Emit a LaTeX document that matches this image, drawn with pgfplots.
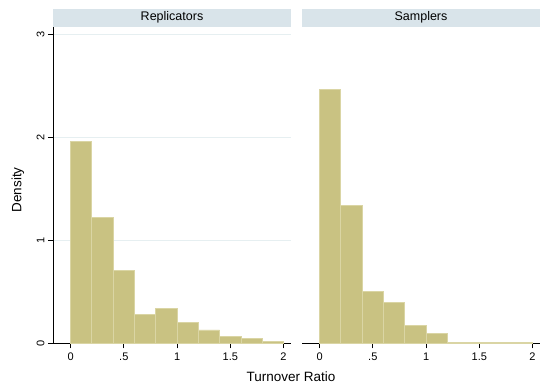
\documentclass[border=0pt]{standalone}
\usepackage{pgfplots}
\pgfplotsset{compat=1.18}
\usepackage{fontspec}
\setmainfont{Liberation Sans}
\definecolor{barfill}{HTML}{C9C282}
\definecolor{baredge}{HTML}{DAD5A4}
\definecolor{strip}{HTML}{D9E4EA}
\definecolor{gridc}{HTML}{E6EFF1}
\pgfplotsset{
  panel/.style={
    scale only axis, width=238bp, height=316bp,
    xmin=-0.165, xmax=2.07, ymin=0, ymax=3.07,
    axis x line*=bottom,
    xtick={0,0.5,1,1.5,2}, xticklabels={0,.5,1,1.5,2},
    ytick={0,1,2,3},
    ymajorgrids, grid style={gridc, line width=0.8bp},
    tick align=outside, major tick length=5bp,
    tick style={black, line width=0.7bp},
    axis line style={black, line width=0.8bp},
    /pgf/number format/assume math mode=true,
    ticklabel style={font=\fontsize{11bp}{13bp}\selectfont},
    xticklabel style={yshift=-1bp},
    clip=false,
  },
  hbars/.style={ybar interval, fill=barfill, draw=baredge, line width=0.8bp},
}
\begin{document}
\begin{tikzpicture}
\useasboundingbox (0,0) rectangle (540bp,385bp);
% strips
\fill[strip] (53bp,358.3bp) rectangle (291bp,376bp);
\fill[strip] (302bp,358.3bp) rectangle (540bp,376bp);
\node[font=\fontsize{12.5bp}{14bp}\selectfont] at (172bp,367.3bp) {Replicators};
\node[font=\fontsize{12.5bp}{14bp}\selectfont] at (421bp,367.3bp) {Samplers};
\begin{axis}[panel, at={(53bp,41.7bp)}, anchor=south west,
  axis y line*=left,
  yticklabel style={rotate=90, anchor=south, xshift=0bp},
  yticklabels={0,1,2,3}]
\addplot[hbars] coordinates {(0,1.96) (0.2,1.22) (0.4,0.71) (0.6,0.28) (0.8,0.34) (1.0,0.20) (1.2,0.13) (1.4,0.07) (1.6,0.05) (1.8,0.02) (2.0,0.02)};
\end{axis}
\begin{axis}[panel, at={(302bp,41.7bp)}, anchor=south west,
  axis y line=none]
\addplot[hbars] coordinates {(0,2.47) (0.2,1.34) (0.4,0.50) (0.6,0.40) (0.8,0.17) (1.0,0.10) (1.2,0.005) (1.4,0.01) (1.6,0.005) (1.8,0.01) (2.0,0.01)};
\end{axis}
\node[rotate=90, font=\fontsize{13.5bp}{15bp}\selectfont] at (18bp,195bp) {Density};
\node[font=\fontsize{13.5bp}{15bp}\selectfont] at (291bp,8bp) {Turnover Ratio};
\end{tikzpicture}
\end{document}
